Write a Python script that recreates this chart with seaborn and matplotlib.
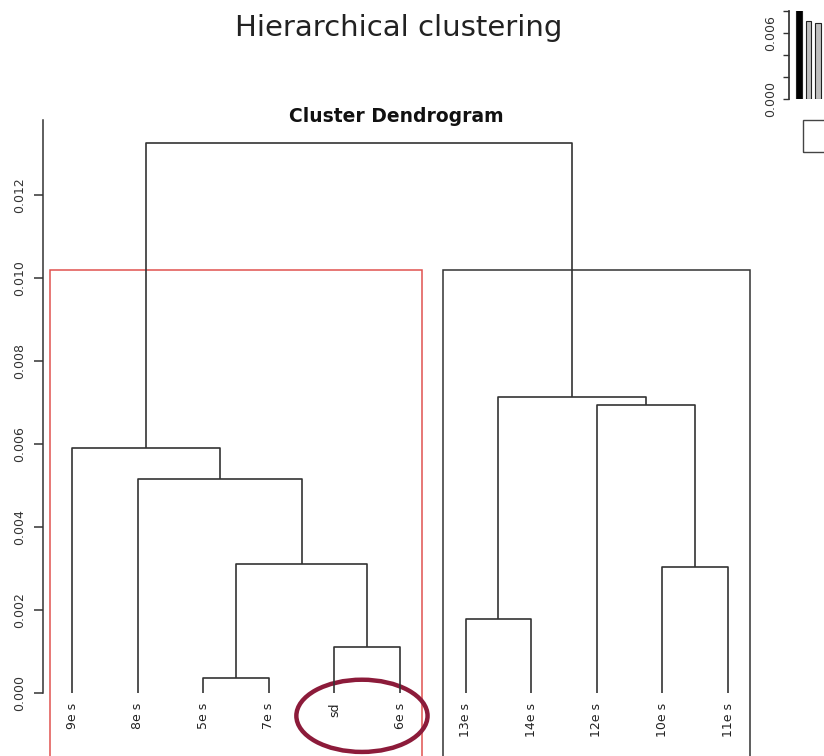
import numpy as np
import pandas as pd
import matplotlib
matplotlib.use("Agg")
import matplotlib.pyplot as plt
from matplotlib.patches import Rectangle, Ellipse
import seaborn as sns

# Leaf labels in dendrogram order
leaves = ["9e s", "8e s", "5e s", "7e s", "sd", "6e s",
          "13e s", "14e s", "12e s", "10e s", "11e s"]

# Merge steps (R style: negative = leaf number in leaf order, positive = earlier merge)
merge_left = [-3, -5, -7, 1, -10, -2, -1, -9, 3, 7]
merge_right = [-4, -6, -8, 2, -11, 4, 6, 5, 8, 9]
merge_height = [0.00035, 0.00110, 0.00178, 0.00312, 0.00303,
                0.00515, 0.00590, 0.00694, 0.00713, 0.01325]

# Cut into k = 2 clusters, sizes in leaf order
cluster_sizes = [6, 5]
cluster_colors = ["#e0524f", "#333333"]
highlight = ["sd", "6e s"]

y_ticks = [0.000, 0.002, 0.004, 0.006, 0.008, 0.010, 0.012]

sns.set_theme(style="white")
plt.rcParams['font.family'] = ['DejaVu Sans']

fig = plt.figure(figsize=(8.24, 7.56), dpi=100)
W, H = 824, 756

# main dendrogram axes, pixel-based placement
ax = fig.add_axes([43 / W, 0, (W - 43) / W, (H - 100) / H])
px_x = 65.6   # pixels per leaf step
px_y = 41500  # pixels per unit height
ax.set_xlim(1 - (72 - 43) / px_x, 11 + (W - 728) / px_x)
ax.set_ylim(-(H - 693) / px_y, (693 - 100) / px_y)

line_kw = dict(color="#333333", lw=1.2, solid_capstyle="butt")
node_x = {}
node_y = {}


def pos(i):
    if i < 0:
        return -i, 0.0
    return node_x[i], node_y[i]


for k, (a, b, h) in enumerate(zip(merge_left, merge_right, merge_height), start=1):
    xa, ya = pos(a)
    xb, yb = pos(b)
    ax.plot([xa, xa, xb, xb], [ya, h, h, yb], **line_kw)
    node_x[k] = (xa + xb) / 2
    node_y[k] = h

for i, lab in enumerate(leaves, start=1):
    ax.text(i, -0.00024, lab, rotation=90, ha="center", va="top", fontsize=9,
            color="#222222")

# rect.hclust style boxes
cut_h = np.mean(sorted(merge_height)[-2:])
start = 0
ybot = ax.get_ylim()[0] - 0.001
for size, col in zip(cluster_sizes, cluster_colors):
    ax.add_patch(Rectangle((start + 0.66, ybot), size - 0.33, cut_h - ybot,
                           fill=False, edgecolor=col, lw=1.1))
    start += size

# highlight ellipse around two leaves
hx = np.mean([leaves.index(h) + 1 for h in highlight])
ax.add_patch(Ellipse((hx - 0.08, -0.00055), 2.0, 0.00174, fill=False,
                     edgecolor="#8c1b3a", lw=3.2, clip_on=False))

for s in ["top", "right", "bottom"]:
    ax.spines[s].set_visible(False)
ax.spines["left"].set_color("#333333")
ax.spines["left"].set_linewidth(1.1)
ax.spines["left"].set_bounds(0, 0.0138)
ax.set_xticks([])
ax.set_yticks(y_ticks)
ax.set_yticklabels([f"{t:.3f}" for t in y_ticks], rotation=90, va="center",
                   fontsize=9, color="#333333")
ax.tick_params(axis="y", left=True, length=6.5, width=1.1, color="#333333",
               pad=6)
ax.set_facecolor("none")

# small bar chart of merge heights (cropped at the right edge)
ax2 = fig.add_axes([789 / W, (H - 99) / H, (880 - 789) / W, 88 / H])
heights = sorted(merge_height, reverse=True)
bar_df = pd.DataFrame({"step": [f"h{i}" for i in range(len(heights))],
                       "height": heights})
pal = {s: ("black" if i == 0 else "#bebebe") for i, s in enumerate(bar_df["step"])}
sns.barplot(data=bar_df, x="step", y="height", hue="step", palette=pal,
            edgecolor="#222222", linewidth=0.8, width=0.6, legend=False,
            saturation=1, ax=ax2)
ax2.set_xlim(-1.05, -1.05 + 91 / 9.5)
ax2.set_ylim(0, 0.008)
for s in ["top", "right", "bottom"]:
    ax2.spines[s].set_visible(False)
ax2.spines["left"].set_color("#333333")
ax2.set_xticks([])
ax2.set_xlabel("")
ax2.set_ylabel("")
ax2.set_yticks([0, 0.002, 0.004, 0.006, 0.008])
ax2.set_yticklabels(["0.000", "", "", "0.006", ""], rotation=90, va="center",
                    fontsize=9, color="#333333")
ax2.tick_params(axis="y", left=True, length=4.3, width=1, color="#333333", pad=4)
ax2.set_facecolor("none")

fig.patches.append(Rectangle((803 / W, (H - 152) / H), 40 / W, 32 / H,
                             transform=fig.transFigure, fill=False,
                             edgecolor="#444444", lw=1))

fig.text(399 / W, 1 - 28 / H, "Hierarchical clustering", fontsize=21,
         ha="center", va="center", color="#222222")
fig.text(396 / W, 1 - 116 / H, "Cluster Dendrogram", fontsize=13.5,
         fontweight="bold", ha="center", va="center", color="#111111")

fig.savefig("out.png", dpi=100)
